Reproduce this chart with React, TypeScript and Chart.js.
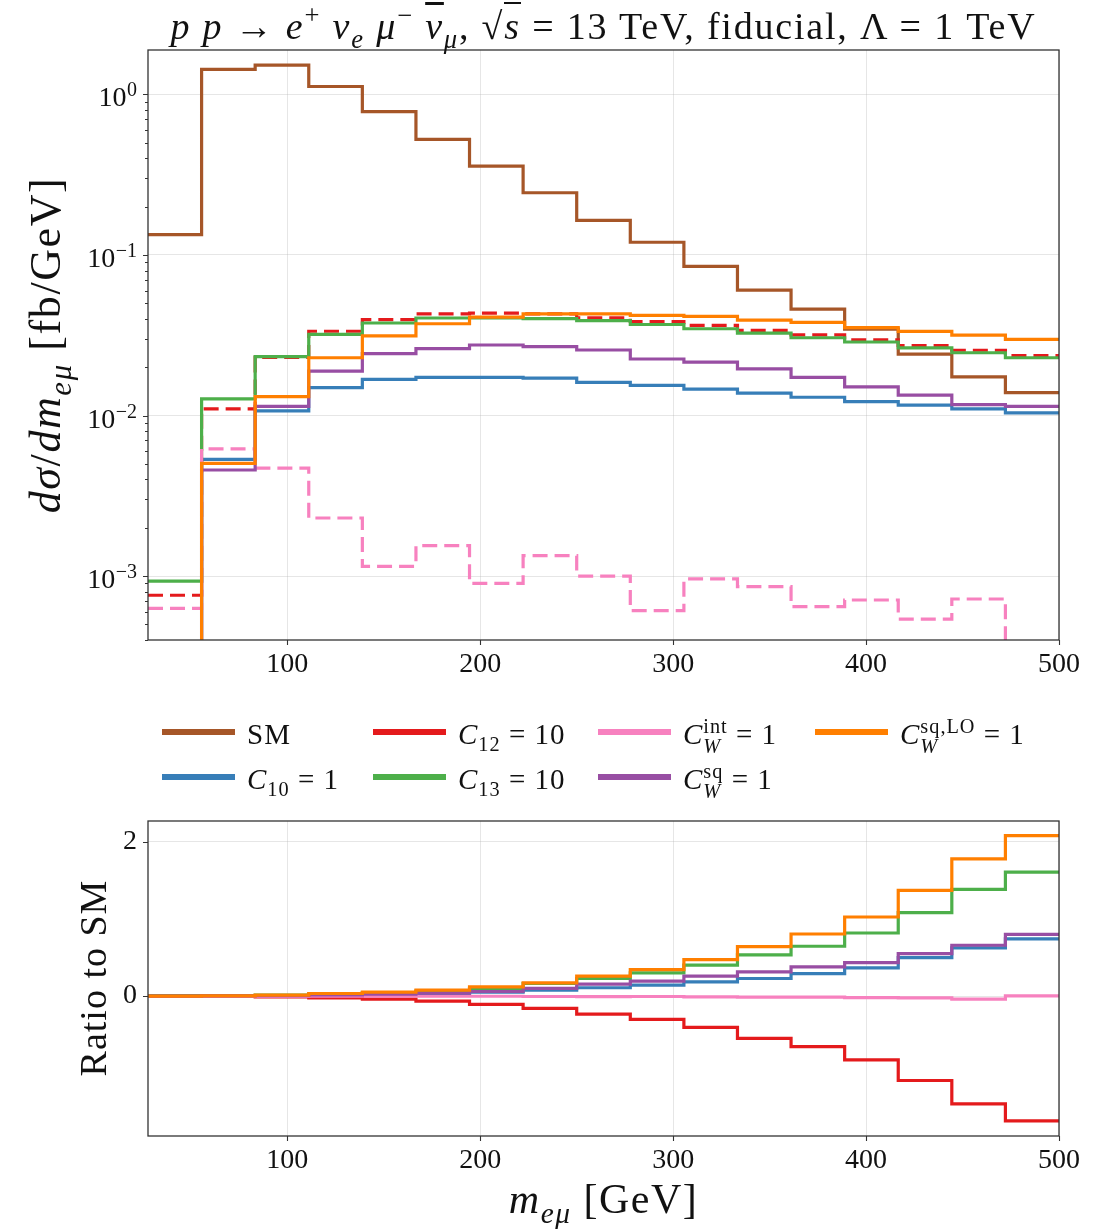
import React, { useEffect, useRef } from "react";
import { Chart, registerables } from "chart.js";

Chart.register(...registerables);

// ---------------- data ----------------
const binEdges = [27.78, 55.56, 83.33, 111.11, 138.89, 166.67, 194.44, 222.22, 250, 277.78, 305.56, 333.33, 361.11, 388.89, 416.67, 444.44, 472.22, 500];

// top panel: |dσ/dm| in fb/GeV (1e-6 = empty / non-positive bin, below the axis)
const smValues = [0.134, 1.43, 1.52, 1.12, 0.78, 0.524, 0.357, 0.244, 0.164, 0.12, 0.085, 0.0604, 0.046, 0.0345, 0.0241, 0.0174, 0.0139];
const c10Values = [1e-6, 0.00533, 0.0107, 0.0149, 0.0168, 0.0173, 0.0173, 0.0171, 0.0161, 0.0154, 0.0146, 0.0138, 0.013, 0.0122, 0.0116, 0.011, 0.0104];
const c12Values = [0.00076, 0.011, 0.023, 0.0335, 0.0396, 0.043, 0.0434, 0.043, 0.0406, 0.0385, 0.0364, 0.0339, 0.0318, 0.0296, 0.0273, 0.0255, 0.0236];
const c13Values = [0.00093, 0.0127, 0.0233, 0.032, 0.0377, 0.0405, 0.0405, 0.0401, 0.039, 0.0369, 0.0347, 0.0326, 0.0305, 0.0287, 0.0264, 0.0246, 0.0229];
const cwIntValues = [0.00063, 0.0062, 0.00471, 0.0023, 0.00115, 0.00155, 0.0009, 0.00134, 0.001, 0.00061, 0.00096, 0.00086, 0.000646, 0.00071, 0.00054, 0.00072, 1e-6];
const cwSqValues = [1e-6, 0.00458, 0.0114, 0.0189, 0.0243, 0.0261, 0.0275, 0.0269, 0.0256, 0.0225, 0.0215, 0.0195, 0.0173, 0.0151, 0.0134, 0.0117, 0.0114];
const cwSqLOValues = [1e-6, 0.00504, 0.0131, 0.0229, 0.0313, 0.0373, 0.041, 0.043, 0.043, 0.042, 0.0414, 0.0393, 0.038, 0.0353, 0.0334, 0.0317, 0.0298];

// bottom panel: ratio to SM
const c10Ratio = [0, 0.004, 0.007, 0.013, 0.02, 0.033, 0.052, 0.077, 0.108, 0.142, 0.185, 0.228, 0.292, 0.366, 0.499, 0.624, 0.74];
const c12Ratio = [-0.003, -0.003, -0.009, -0.022, -0.039, -0.065, -0.108, -0.159, -0.232, -0.301, -0.404, -0.546, -0.654, -0.826, -1.092, -1.394, -1.613];
const c13Ratio = [0.005, 0.005, 0.012, 0.028, 0.045, 0.065, 0.099, 0.163, 0.228, 0.301, 0.4, 0.533, 0.645, 0.817, 1.08, 1.381, 1.604];
const cwIntRatio = [-0.005, -0.004, -0.003, -0.002, -0.001, -0.002, -0.002, -0.005, -0.006, -0.005, -0.011, -0.014, -0.014, -0.02, -0.022, -0.04, 0.003];
const cwSqRatio = [0, 0.003, 0.007, 0.016, 0.025, 0.04, 0.06, 0.099, 0.155, 0.194, 0.258, 0.314, 0.378, 0.434, 0.551, 0.658, 0.8];
const cwSqLORatio = [0, 0.004, 0.013, 0.034, 0.052, 0.077, 0.12, 0.172, 0.258, 0.344, 0.473, 0.641, 0.804, 1.024, 1.368, 1.776, 2.077];

// axes
const xRange = [27.78, 500];
const xTicks = [100, 200, 300, 400, 500];
const logRange = [4e-4, 1.89];
const yMajorTicks = [1, 0.1, 0.01, 0.001];
const yTickExponents = ["0", "\u22121", "\u22122", "\u22123"];
const yMinorMultipliers = [2, 3, 4, 5, 6, 7, 8, 9];
const ratioRange = [-1.81, 2.266];
const ratioTicks = [0, 2];

// ---------------- styling ----------------
const FONT = '"Liberation Serif", "DejaVu Serif", serif';
const TEXT = "#111";
const GRID = "rgba(176,176,176,0.32)";
const FRAME = "#333";

const COLORS = {
  sm: "#a65628",
  c10: "#377eb8",
  c12: "#e41a1c",
  c13: "#4daf4a",
  cwInt: "#f781bf",
  cwSq: "#984ea3",
  cwSqLO: "#ff7f00",
};

const series = [
  { key: "sm", top: smValues, ratio: null as number[] | null, dashed: false },
  { key: "c10", top: c10Values, ratio: c10Ratio, dashed: false },
  { key: "c12", top: c12Values, ratio: c12Ratio, dashed: true },
  { key: "c13", top: c13Values, ratio: c13Ratio, dashed: false },
  { key: "cwInt", top: cwIntValues, ratio: cwIntRatio, dashed: true },
  { key: "cwSq", top: cwSqValues, ratio: cwSqRatio, dashed: false },
  { key: "cwSqLO", top: cwSqLOValues, ratio: cwSqLORatio, dashed: false },
];

function stepPoints(values: number[]) {
  const pts = values.map((v, i) => ({ x: binEdges[i], y: v }));
  pts.push({ x: binEdges[binEdges.length - 1], y: values[values.length - 1] });
  return pts;
}

function isMajorLog(v: number) {
  const l = Math.log10(v);
  return Math.abs(l - Math.round(l)) < 1e-6;
}

function logTickValues() {
  const out: number[] = [];
  for (let d = -4; d <= 0; d++) {
    for (const m of [1, ...yMinorMultipliers]) {
      const v = m * Math.pow(10, d);
      if (v >= logRange[0] && v <= logRange[1]) out.push(v);
    }
  }
  return out;
}

const noPad = (s: any) => {
  s.paddingTop = 0;
  s.paddingBottom = 0;
  s.paddingLeft = 0;
  s.paddingRight = 0;
};

const framePlugin = {
  id: "frame",
  afterDraw(chart: any, _args: any, opts: any) {
    const { ctx, chartArea: a, scales } = chart;
    ctx.save();
    ctx.strokeStyle = FRAME;
    ctx.lineWidth = 1.3;
    ctx.strokeRect(a.left, a.top, a.right - a.left, a.bottom - a.top);
    ctx.lineWidth = 1.1;
    ctx.beginPath();
    for (const v of xTicks) {
      const px = Math.round(scales.x.getPixelForValue(v)) + 0.5;
      ctx.moveTo(px, a.bottom);
      ctx.lineTo(px, a.bottom + 5);
    }
    if (opts.log) {
      for (const v of logTickValues()) {
        const py = Math.round(scales.y.getPixelForValue(v)) + 0.5;
        const len = isMajorLog(v) ? 5 : 3;
        ctx.moveTo(a.left - len, py);
        ctx.lineTo(a.left, py);
      }
    } else {
      for (const v of ratioTicks) {
        const py = Math.round(scales.y.getPixelForValue(v)) + 0.5;
        ctx.moveTo(a.left - 5, py);
        ctx.lineTo(a.left, py);
      }
    }
    ctx.stroke();
    if (opts.log) {
      ctx.fillStyle = TEXT;
      ctx.textBaseline = "alphabetic";
      ctx.textAlign = "left";
      const right = a.left - 11;
      yMajorTicks.forEach((v, i) => {
        const py = scales.y.getPixelForValue(v);
        const exp = yTickExponents[i];
        ctx.font = `20px ${FONT}`;
        const ew = ctx.measureText(exp).width;
        ctx.fillText(exp, right - ew, py + 2);
        ctx.font = `28px ${FONT}`;
        const bw = ctx.measureText("10").width;
        ctx.fillText("10", right - ew - bw - 0.5, py + 12);
      });
    }
    ctx.restore();
  },
};

const Sub = ({ children }: any) => (
  <span style={{ fontSize: "0.7em", verticalAlign: "-0.35em", lineHeight: 0 }}>{children}</span>
);
const Sup = ({ children }: any) => (
  <span style={{ fontSize: "0.7em", verticalAlign: "0.55em", lineHeight: 0 }}>{children}</span>
);
const SupSub = ({ sup, sub }: any) => (
  <span
    style={{
      display: "inline-block",
      fontSize: "0.7em",
      lineHeight: 1.0,
      verticalAlign: "-0.45em",
      textAlign: "left",
    }}
  >
    <span style={{ display: "block" }}>{sup}</span>
    <span style={{ display: "block" }}>
      <i>{sub}</i>
    </span>
  </span>
);

const legendItems = [
  { key: "sm", col: 0, row: 0, label: <span>SM</span> },
  { key: "c10", col: 0, row: 1, label: <span><i>C</i><Sub>10</Sub> = 1</span> },
  { key: "c12", col: 1, row: 0, label: <span><i>C</i><Sub>12</Sub> = 10</span> },
  { key: "c13", col: 1, row: 1, label: <span><i>C</i><Sub>13</Sub> = 10</span> },
  { key: "cwInt", col: 2, row: 0, label: <span><i>C</i><SupSub sup="int" sub="W" /> = 1</span> },
  { key: "cwSq", col: 2, row: 1, label: <span><i>C</i><SupSub sup="sq" sub="W" /> = 1</span> },
  { key: "cwSqLO", col: 3, row: 0, label: <span><i>C</i><SupSub sup="sq,LO" sub="W" /> = 1</span> },
];
const legendColX = [162, 373, 598, 815];
const legendRowY = [732, 777];

export default function App() {
  const topRef = useRef<HTMLCanvasElement | null>(null);
  const botRef = useRef<HTMLCanvasElement | null>(null);

  useEffect(() => {
    const tickFont = { family: FONT, size: 28 };
    const xScale = (h: number) => ({
      type: "linear" as const,
      min: xRange[0],
      max: xRange[1],
      afterBuildTicks: (s: any) => {
        s.ticks = xTicks.map((v) => ({ value: v }));
      },
      afterFit: (s: any) => {
        s.height = h;
        noPad(s);
      },
      grid: { color: GRID, lineWidth: 1, drawTicks: false },
      border: { display: false },
      ticks: { font: tickFont, color: TEXT, padding: 8, autoSkip: false, maxRotation: 0, callback: (v: any) => String(v) },
    });

    const top = new Chart(topRef.current as HTMLCanvasElement, {
      type: "line",
      data: {
        datasets: series.map((s, i) => ({
          label: s.key,
          data: stepPoints(s.top),
          borderColor: (COLORS as any)[s.key],
          borderWidth: 3.2,
          borderDash: s.dashed ? [15, 7] : [],
          stepped: "before" as const,
          pointRadius: 0,
          fill: false,
          order: series.length - i,
        })),
      },
      options: {
        animation: false,
        responsive: false,
        events: [],
        layout: { padding: { left: 0, right: 50, top: 50, bottom: 0 } },
        plugins: { legend: { display: false }, tooltip: { enabled: false }, frame: { log: true } } as any,
        scales: {
          x: xScale(60) as any,
          y: {
            type: "logarithmic",
            min: logRange[0],
            max: logRange[1],
            afterBuildTicks: (s: any) => {
              s.ticks = logTickValues().map((v) => ({ value: v }));
            },
            afterFit: (s: any) => {
              s.width = 148;
              noPad(s);
            },
            grid: {
              color: (c: any) => (c.tick && isMajorLog(c.tick.value) ? GRID : "rgba(0,0,0,0)"),
              lineWidth: 1,
              drawTicks: false,
            },
            border: { display: false },
            ticks: { autoSkip: false, callback: () => "" },
          } as any,
        },
      },
      plugins: [framePlugin],
    });

    const ratioSeries = series.filter((s) => s.ratio);
    const bot = new Chart(botRef.current as HTMLCanvasElement, {
      type: "line",
      data: {
        datasets: ratioSeries.map((s, i) => ({
          label: s.key,
          data: stepPoints(s.ratio as number[]),
          borderColor: (COLORS as any)[s.key],
          borderWidth: 3.2,
          stepped: "before" as const,
          pointRadius: 0,
          fill: false,
          order: ratioSeries.length - i,
        })),
      },
      options: {
        animation: false,
        responsive: false,
        events: [],
        layout: { padding: { left: 0, right: 50, top: 21, bottom: 0 } },
        plugins: { legend: { display: false }, tooltip: { enabled: false }, frame: { log: false } } as any,
        scales: {
          x: xScale(94) as any,
          y: {
            type: "linear",
            min: ratioRange[0],
            max: ratioRange[1],
            afterBuildTicks: (s: any) => {
              s.ticks = ratioTicks.map((v) => ({ value: v }));
            },
            afterFit: (s: any) => {
              s.width = 148;
              noPad(s);
            },
            grid: { color: GRID, lineWidth: 1, drawTicks: false },
            border: { display: false },
            ticks: { font: tickFont, color: TEXT, padding: 11, autoSkip: false, callback: (v: any) => String(v) },
          } as any,
        },
      },
      plugins: [framePlugin],
    });

    return () => {
      top.destroy();
      bot.destroy();
    };
  }, []);

  const abs = (s: any) => ({ position: "absolute" as const, whiteSpace: "nowrap" as const, fontFamily: FONT, color: TEXT, zIndex: 2, ...s });

  return (
    <div style={{ position: "absolute", left: 0, top: 0, width: 1109, height: 1230, background: "#fff", overflow: "hidden" }}>
      <canvas ref={topRef} width={1109} height={700} style={{ position: "absolute", left: 0, top: 0 }} />
      <canvas ref={botRef} width={1109} height={430} style={{ position: "absolute", left: 0, top: 800 }} />

      {/* title */}
      <div style={abs({ left: 148, width: 911, top: 4, textAlign: "center", fontSize: 38, letterSpacing: 1.8, lineHeight: "44px" })}>
        <i>p p</i> → <i>e</i>
        <Sup>+</Sup> <i>ν</i>
        <Sub><i>e</i></Sub> <i>μ</i>
        <Sup>−</Sup> <i style={{ textDecoration: "overline" }}>ν</i>
        <Sub><i>μ</i></Sub>, √<span style={{ borderTop: "2px solid #111", paddingTop: 1 }}><i>s</i></span> = 13 TeV, fiducial, Λ = 1 TeV
      </div>

      {/* y title top */}
      <div
        style={abs({
          left: 46 - 250,
          top: 345 - 25,
          width: 500,
          height: 50,
          lineHeight: "50px",
          textAlign: "center",
          fontSize: 44,
          letterSpacing: 1.6,
          transform: "rotate(-90deg)",
        })}
      >
        <i>dσ</i>/<i>dm</i>
        <Sub><i>eμ</i></Sub> [fb/GeV]
      </div>

      {/* y title ratio */}
      <div
        style={abs({
          left: 93 - 200,
          top: 978 - 25,
          width: 400,
          height: 50,
          lineHeight: "50px",
          textAlign: "center",
          fontSize: 38,
          letterSpacing: 1,
          transform: "rotate(-90deg)",
        })}
      >
        Ratio to SM
      </div>

      {/* x title */}
      <div style={abs({ left: 148, width: 911, top: 1178, textAlign: "center", fontSize: 42, letterSpacing: 1.5, lineHeight: "42px" })}>
        <i>m</i>
        <Sub><i>eμ</i></Sub> [GeV]
      </div>

      {/* legend */}
      {legendItems.map((it) => (
        <React.Fragment key={it.key}>
          <div
            style={{
              position: "absolute",
              left: legendColX[it.col],
              top: legendRowY[it.row] - 3,
              width: 73,
              height: 6,
              background: (COLORS as any)[it.key],
              zIndex: 2,
            }}
          />
          <div style={abs({ left: legendColX[it.col] + 85, top: legendRowY[it.row] - 18, fontSize: 29, letterSpacing: 1, lineHeight: "40px" })}>
            {it.label}
          </div>
        </React.Fragment>
      ))}
    </div>
  );
}
